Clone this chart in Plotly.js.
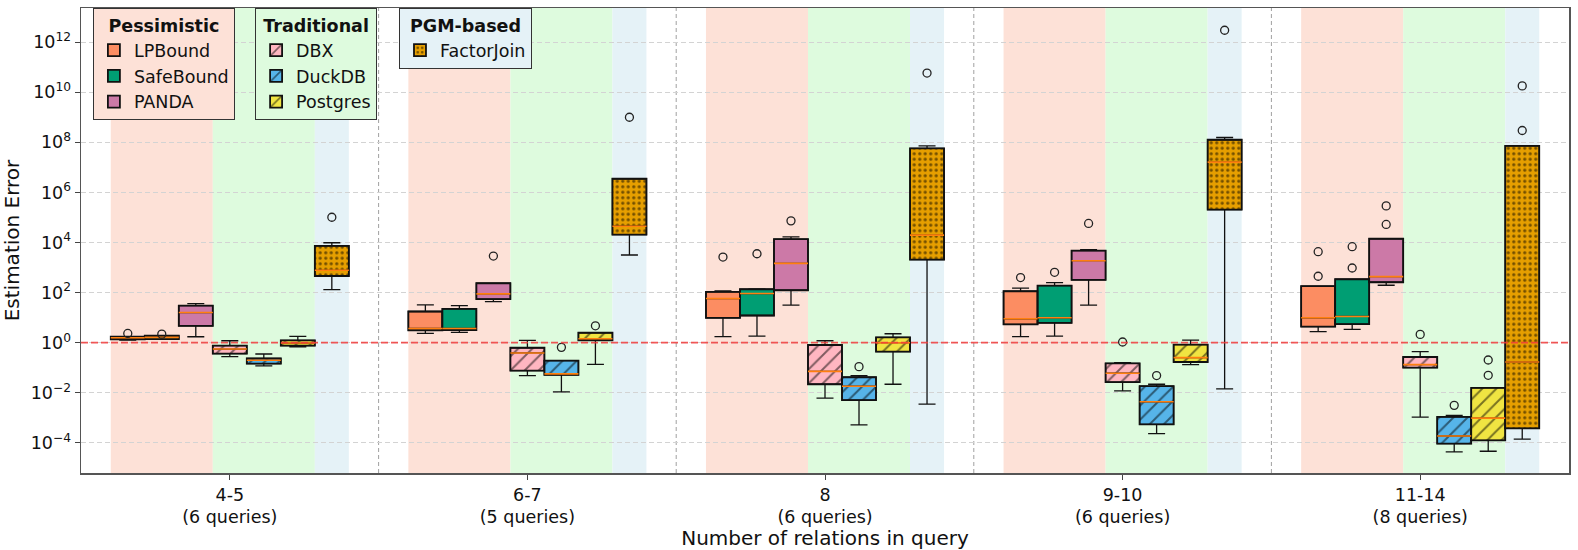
<!DOCTYPE html>
<html>
<head>
<meta charset="utf-8">
<script src="https://cdn.plot.ly/plotly-3.0.1.min.js"></script>
<style>
  html, body { margin: 0; padding: 0; background: #fff; }
  #chart { width: 1578px; height: 550px; }
</style>
</head>
<body>
<div id="chart"></div>
<script>
// ---------------- DATA ----------------
const groups = ['4-5', '6-7', '8', '9-10', '11-14'];
const queryCounts = [6, 5, 6, 6, 8];
const methods = ['LPBound', 'SafeBound', 'PANDA', 'DBX', 'DuckDB', 'Postgres', 'FactorJoin'];
const families = ['Pessimistic', 'Traditional', 'PGM-based'];

// five-number summaries per group: [lower whisker, q1, median, q3, upper whisker]
const lpbound = [[1.28, 1.35, 1.58, 1.73, 1.73], [2.35, 3.1, 3.7, 17.6, 32.4], [1.74, 9.9, 58, 107, 117], [1.74, 5.36, 9.0, 113.5, 150], [2.75, 4.35, 9.9, 180, 180]];
const safebound = [[1.36, 1.40, 1.63, 1.9, 1.9], [2.58, 3.19, 3.7, 22.5, 30.5], [1.84, 12.2, 91.6, 136, 140], [1.85, 6.25, 9.9, 190, 251], [3.4, 5.55, 11.2, 341, 341]];
const panda = [[1.73, 4.74, 16, 30.5, 36.6], [44, 54.5, 88.8, 236, 236], [31.5, 124, 1470, 13650, 16900], [31.5, 320, 1880, 4700, 5130], [197, 259, 435, 14100, 14100]];
const dbx = [[0.277, 0.365, 0.56, 0.76, 1.2], [0.0487, 0.077, 0.39, 0.63, 1.24], [0.0061, 0.022, 0.072, 0.81, 1.2], [0.012, 0.0265, 0.0605, 0.151, 0.16], [0.00107, 0.101, 0.134, 0.269, 0.44]];
const duckdb = [[0.118, 0.146, 0.2, 0.238, 0.355], [0.0109, 0.0518, 0.057, 0.192, 0.192], [5.3e-4, 0.0051, 0.0184, 0.0419, 0.0488], [2.34e-4, 5.5e-4, 0.00438, 0.0184, 0.022], [4.37e-5, 9.3e-5, 1.89e-4, 0.0011, 0.00125]];
const postgres = [[0.69, 0.76, 0.97, 1.24, 1.79], [0.1377, 1.24, 1.44, 2.5, 2.5], [0.022, 0.44, 1.0, 1.63, 2.28], [0.134, 0.17, 0.254, 0.834, 1.28], [4.66e-5, 1.26e-4, 9.8e-4, 0.0157, 0.0157]];
const factorjoin = [[132, 461, 776, 7400, 9770], [3170, 2.05e4, 4.47e4, 3.5e6, 3.5e6], [0.00353, 2060, 19700, 5.67e7, 7.2e7], [0.0144, 2.07e5, 1.62e7, 1.26e8, 1.55e8], [1.43e-4, 3.8e-4, 0.17, 7.24e7, 7.24e7]];

// outliers per group
const lpboundOut = [[2.35], [], [2630], [398], [449, 4300]];
const safeboundOut = [[2.2], [], [3560], [646], [962, 6790]];
const pandaOut = [[], [2880], [73100], [57500], [52500, 2.89e5]];
const dbxOut = [[], [], [], [1.07], [2.15]];
const duckdbOut = [[], [0.652], [0.111], [0.0488], [0.00316]];
const postgresOut = [[], [4.74], [], [], [0.05, 0.204]];
const factorjoinOut = [[1.02e5], [1e9], [5.8e10], [2.96e12], [2.96e8, 1.78e10]];

const yTickExponents = [-4, -2, 0, 2, 4, 6, 8, 10, 12];

// ---------------- STYLE ----------------
const summaries = [lpbound, safebound, panda, dbx, duckdb, postgres, factorjoin];
const outliers = [lpboundOut, safeboundOut, pandaOut, dbxOut, duckdbOut, postgresOut, factorjoinOut];
const fillColors = ['#fc8d62', '#009e73', '#cc79a7', '#ffb6c1', '#56b4e9', '#f0e442', '#e69f00'];
const patterns = ['', '', '', '/', '/', '/', '.'];
const familyOf = [0, 0, 0, 1, 1, 1, 2];
const legendIds = ['legend', 'legend2', 'legend3'];
const familyBg = ['rgb(253,225,215)', 'rgb(222,251,222)', 'rgb(229,242,247)'];

const FONT = 'DejaVu Sans, Verdana, sans-serif';
const nM = methods.length;
const W = 0.8 / nM;
const pos = (g, m) => g + (m - (nM - 1) / 2) * W;

const traces = [];
// box bodies (bars with fill + pattern)
methods.forEach((name, m) => {
  const xs = groups.map((_, g) => pos(g, m));
  const pat = patterns[m] ? {shape: patterns[m], fgcolor: '#000', bgcolor: fillColors[m], fillmode: 'overlay',
    size: patterns[m] === '.' ? 5.5 : 10, solidity: patterns[m] === '.' ? 0.28 : 0.2} : {shape: ''};
  traces.push({
    type: 'bar', name: name, x: xs,
    base: summaries[m].map(s => s[1]),
    y: summaries[m].map(s => s[3] - s[1]),
    width: W,
    marker: {color: fillColors[m], line: {color: '#111', width: 1.8}, pattern: pat},
    legend: legendIds[familyOf[m]],
    showlegend: true, hoverinfo: 'skip'
  });
});
// whiskers via precomputed box traces
methods.forEach((name, m) => {
  traces.push({
    type: 'box', name: name + ' box', x: groups.map((_, g) => pos(g, m)),
    lowerfence: summaries[m].map(s => s[0]),
    q1: summaries[m].map(s => s[1]),
    median: summaries[m].map(s => s[2]),
    q3: summaries[m].map(s => s[3]),
    upperfence: summaries[m].map(s => s[4]),
    width: W, whiskerwidth: 0.5, boxpoints: false,
    fillcolor: 'rgba(0,0,0,0)', line: {color: '#111', width: 1.3},
    showlegend: false, hoverinfo: 'skip'
  });
});
// medians (orange)
methods.forEach((name, m) => {
  const xs = [], ys = [];
  groups.forEach((_, g) => {
    const p = pos(g, m);
    xs.push(p - W / 2, p + W / 2, null);
    ys.push(summaries[m][g][2], summaries[m][g][2], null);
  });
  traces.push({type: 'scatter', mode: 'lines', x: xs, y: ys, line: {color: '#ff7f0e', width: 1.6},
    showlegend: false, hoverinfo: 'skip'});
});
// outliers
methods.forEach((name, m) => {
  const xs = [], ys = [];
  groups.forEach((_, g) => outliers[m][g].forEach(v => { xs.push(pos(g, m)); ys.push(v); }));
  traces.push({type: 'scatter', mode: 'markers', x: xs, y: ys,
    marker: {symbol: 'circle-open', size: 8, color: '#222', line: {width: 1.3}},
    showlegend: false, hoverinfo: 'skip'});
});

// background bands and separators
const shapes = [];
const bandEdges = [[-3.5, -0.5], [-0.5, 2.5], [2.5, 3.5]];
groups.forEach((_, g) => {
  bandEdges.forEach((e, f) => {
    shapes.push({type: 'rect', xref: 'x', yref: 'paper', x0: g + e[0] * W, x1: g + e[1] * W, y0: 0, y1: 1,
      fillcolor: familyBg[f], line: {width: 0}, layer: 'below'});
  });
});
groups.slice(0, -1).forEach((_, g) => {
  shapes.push({type: 'line', xref: 'x', yref: 'paper', x0: g + 0.5, x1: g + 0.5, y0: 0, y1: 1,
    line: {color: '#a0a0a0', width: 1, dash: '4px,3px'}, layer: 'below'});
});
shapes.push({type: 'line', xref: 'paper', yref: 'y', x0: 0, x1: 1, y0: 1, y1: 1,
  line: {color: 'rgba(240,60,60,0.85)', width: 1.8, dash: '7px,3px'}, layer: 'above'});

const legendBase = {
  yanchor: 'top', y: 0.999, xanchor: 'left',
  borderwidth: 1, bordercolor: '#333',
  font: {family: FONT, size: 17.5, color: '#111'},
  traceorder: 'normal', itemclick: false, itemdoubleclick: false
};

const layout = {
  width: 1578, height: 550,
  margin: {l: 81, r: 9, t: 8, b: 77},
  paper_bgcolor: '#fff', plot_bgcolor: '#fff',
  font: {family: FONT, size: 17.5, color: '#111'},
  barmode: 'overlay', boxmode: 'overlay',
  hovermode: false,
  xaxis: {
    range: [-0.5, groups.length - 0.5],
    tickmode: 'array',
    tickvals: groups.map((_, g) => g),
    ticktext: groups.map((t, g) => t + '<br>(' + queryCounts[g] + ' queries)'),
    ticks: 'outside', ticklen: 5, tickcolor: '#444', tickwidth: 1,
    showgrid: false, zeroline: false,
    showline: true, linecolor: '#555', linewidth: 1.5, mirror: true,
    tickfont: {family: FONT, size: 17.5, color: '#111'},
    title: {text: 'Number of relations in query', font: {family: FONT, size: 20, color: '#111'}, standoff: 1}
  },
  yaxis: {
    type: 'log',
    range: [-5.2, 13.36],
    tickmode: 'array',
    tickvals: yTickExponents.map(e => Math.pow(10, e)),
    ticktext: yTickExponents.map(e => '10<sup>' + (e < 0 ? '\u2212' + (-e) : e) + '</sup>'),
    ticks: 'outside', ticklen: 5, tickcolor: '#444', tickwidth: 1,
    showgrid: true, gridcolor: '#d3d3d3', gridwidth: 1, griddash: '5px,3px',
    zeroline: false,
    showline: true, linecolor: '#555', linewidth: 1.5, mirror: true,
    tickfont: {family: FONT, size: 17.5, color: '#111'},
    title: {text: 'Estimation Error', font: {family: FONT, size: 20, color: '#111'}, standoff: 10}
  },
  legend: Object.assign({}, legendBase, {x: 0.008, bgcolor: familyBg[0],
    title: {text: '<b>' + families[0] + '</b>', side: 'top center', font: {family: FONT, size: 17.5}}}),
  legend2: Object.assign({}, legendBase, {x: 0.117, bgcolor: familyBg[1],
    title: {text: '<b>' + families[1] + '</b>', side: 'top center', font: {family: FONT, size: 17.5}}}),
  legend3: Object.assign({}, legendBase, {x: 0.2137, bgcolor: familyBg[2],
    title: {text: '<b>' + families[2] + '</b>', side: 'top center', font: {family: FONT, size: 17.5}}}),
  shapes: shapes
};

Plotly.newPlot('chart', traces, layout, {displayModeBar: false, staticPlot: true});
</script>
</body>
</html>
